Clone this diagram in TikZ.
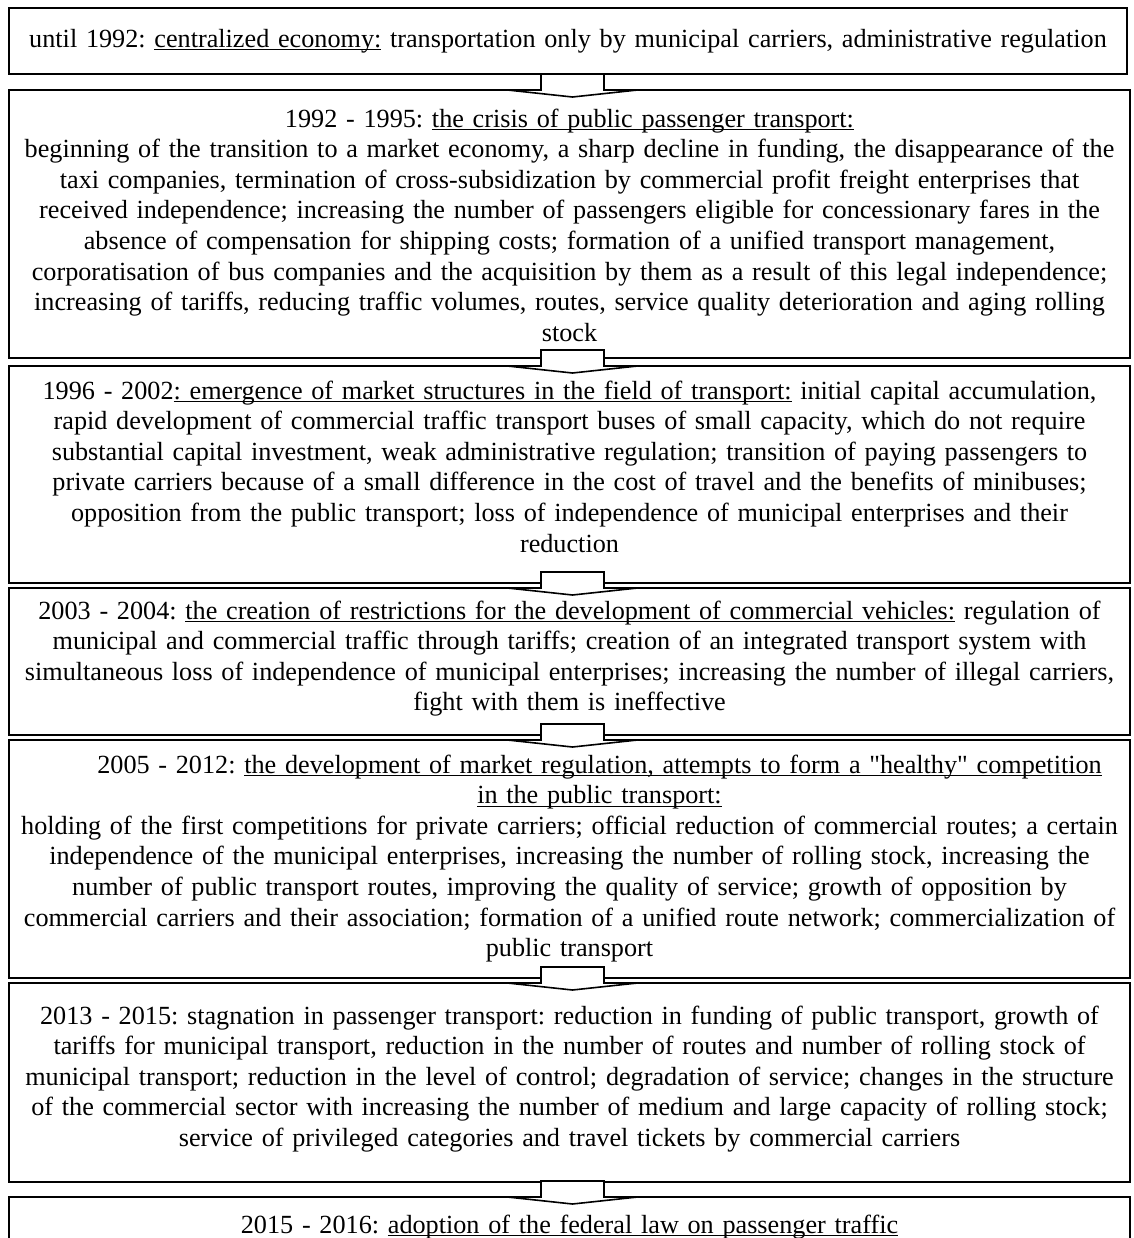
\documentclass[tikz,border=0pt]{standalone}
\usepackage{fontspec}
\defaultfontfeatures[\rmfamily]{}
\setmainfont{Liberation Serif}
\frenchspacing
\newsavebox\myulbox
\newcommand\myul[1]{\sbox\myulbox{#1}\rlap{\rule[-1.7pt]{\wd\myulbox}{0.75pt}}\usebox\myulbox}
\usetikzlibrary{calc}
\begin{document}
\begin{tikzpicture}[x=0.5pt,y=-0.5pt,
  box/.style={draw, line width=1.1pt, inner sep=0pt, outer sep=0pt, anchor=north west},
  txt/.style={inner sep=0pt, text width=600pt, align=center, anchor=base,
    font=\fontsize{13.1pt}{15.3pt}\selectfont\frenchspacing},
  barrow/.pic={\filldraw[fill=white, draw=black, line width=0.8pt, line join=miter]
    (-31.5,0) -- (-31.5,16) -- (-65,16) -- (0,23) -- (65,16) -- (31.5,16) -- (31.5,0) -- cycle;}]
\clip (0,0) rectangle (1134,1238);
\fill[white] (0,0) rectangle (1134,1238);

% boxes
\node[box, minimum width=559pt,   minimum height=33pt]   (b1) at (9,8) {};
\node[box, minimum width=560.5pt, minimum height=134pt]  (b2) at (9,90) {};
\node[box, minimum width=560.5pt, minimum height=108.5pt](b3) at (9,366) {};
\node[box, minimum width=560.5pt, minimum height=73.5pt] (b4) at (9,588) {};
\node[box, minimum width=560.5pt, minimum height=119pt]  (b5) at (9,740) {};
\node[box, minimum width=560.5pt, minimum height=99.5pt] (b6) at (9,983) {};
\node[box, minimum width=560.5pt, minimum height=40pt]   (b7) at (9,1197) {};

% texts
\node[txt] (t1) at ($(b1.north)+(0,39)$) {until 1992: \myul{centralized economy:} transportation only by municipal carriers, administrative regulation};

\node[txt] (t2) at ($(b2.north)+(0,37)$) {1992 - 1995: \myul{the crisis of public passenger transport:}\\
beginning of the transition to a market economy, a sharp decline in funding, the disappearance of the\\
taxi companies, termination of cross-subsidization by commercial profit freight enterprises that\\
received independence; increasing the number of passengers eligible for concessionary fares in the\\
absence of compensation for shipping costs; formation of a unified transport management,\\
corporatisation of bus companies and the acquisition by them as a result of this legal independence;\\
increasing of tariffs, reducing traffic volumes, routes, service quality deterioration and aging rolling\\
stock};

\node[txt] (t3) at ($(b3.north)+(0,33)$) {1996 - 2002\myul{: emergence of market structures in the field of transport:} initial capital accumulation,\\
rapid development of commercial traffic transport buses of small capacity, which do not require\\
substantial capital investment, weak administrative regulation; transition of paying passengers to\\
private carriers because of a small difference in the cost of travel and the benefits of minibuses;\\
opposition from the public transport; loss of independence of municipal enterprises and their\\
reduction};

\node[txt] (t4) at ($(b4.north)+(0,31)$) {2003 - 2004: \myul{the creation of restrictions for the development of commercial vehicles:} regulation of\\
municipal and commercial traffic through tariffs; creation of an integrated transport system with\\
simultaneous loss of independence of municipal enterprises; increasing the number of illegal carriers,\\
fight with them is ineffective};

\node[txt] (t5) at ($(b5.north)+(0,33)$) {\hspace*{30pt}2005 - 2012: \myul{the development of market regulation, attempts to form a "healthy" competition}\\
\hspace*{30pt}\myul{in the public transport:}\\
holding of the first competitions for private carriers; official reduction of commercial routes; a certain\\
independence of the municipal enterprises, increasing the number of rolling stock, increasing the\\
number of public transport routes, improving the quality of service; growth of opposition by\\
commercial carriers and their association; formation of a unified route network; commercialization of\\
public transport};

\node[txt] (t6) at ($(b6.north)+(0,41)$) {2013 - 2015: stagnation in passenger transport: reduction in funding of public transport, growth of\\
tariffs for municipal transport, reduction in the number of routes and number of rolling stock of\\
municipal transport; reduction in the level of control; degradation of service; changes in the structure\\
of the commercial sector with increasing the number of medium and large capacity of rolling stock;\\
service of privileged categories and travel tickets by commercial carriers};

\node[txt] (t7) at ($(b7.north)+(0,36)$) {2015 - 2016: \myul{adoption of the federal law on passenger traffic}};

% block arrows
\pic at ($(b2.north)+(3,-16)$) {barrow};
\pic at ($(b3.north)+(3,-16)$) {barrow};
\pic at ($(b4.north)+(3,-16)$) {barrow};
\pic at ($(b5.north)+(3,-16)$) {barrow};
\pic at ($(b6.north)+(3,-16)$) {barrow};
\pic at ($(b7.north)+(3,-16)$) {barrow};
\end{tikzpicture}
\end{document}
